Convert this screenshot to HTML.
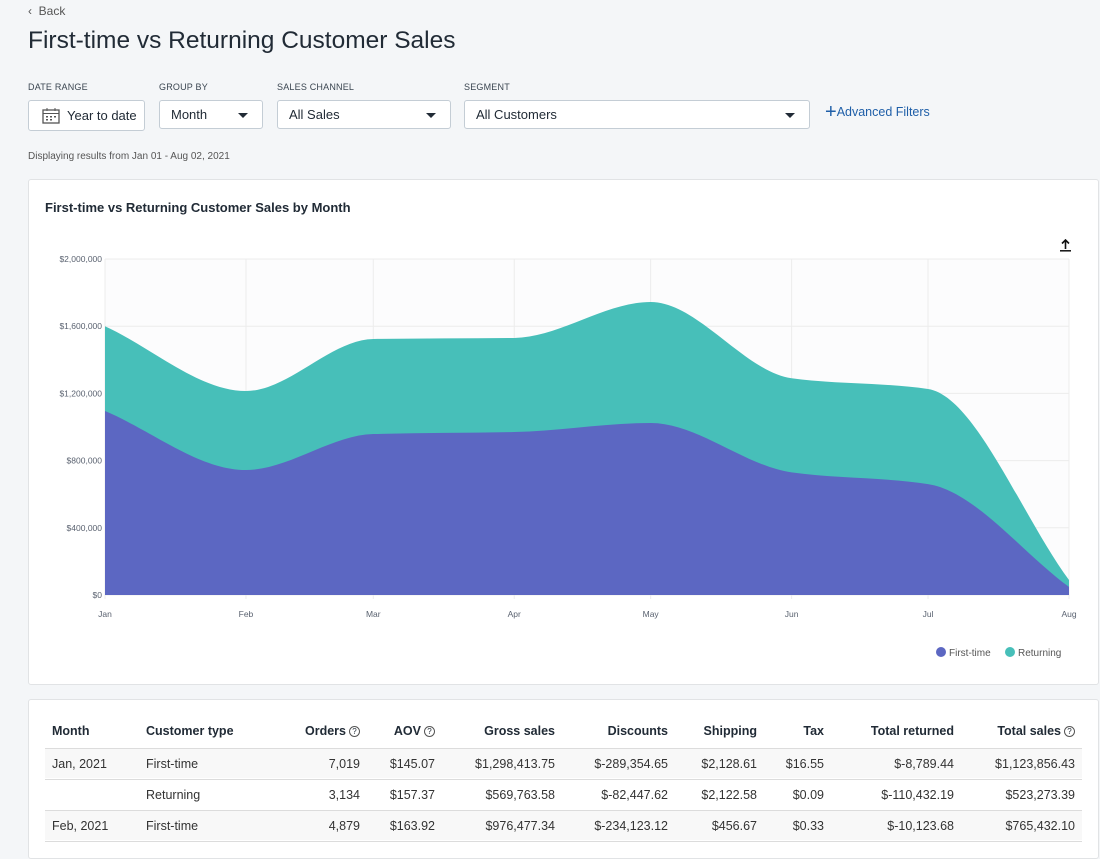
<!DOCTYPE html>
<html><head><meta charset="utf-8">
<style>
*{box-sizing:border-box;margin:0;padding:0}
body{width:1100px;height:843px;overflow:hidden;background:#f4f6f8;font-family:"Liberation Sans",sans-serif;color:#212b36;position:relative}
.abs{position:absolute}
.lbl{font-size:9px;color:#3a4550;letter-spacing:.2px}
.box{position:absolute;background:#fff;border:1px solid #c4cdd5;border-radius:3px;font-size:13px;color:#212b36;height:29px;line-height:27px;padding-left:11px}
.caret{position:absolute;right:14px;top:12px;width:0;height:0;border-left:5px solid transparent;border-right:5px solid transparent;border-top:5px solid #212b36}
.card{position:absolute;background:#fff;border:1px solid #e1e3e5;border-radius:3px}
.th{position:absolute;font-size:12.5px;font-weight:bold;top:724px}
.td{position:absolute;font-size:12.5px;color:#333}
.r{text-align:right}
.q{display:inline-block;width:11px;height:11px;border:1px solid #555;border-radius:50%;font-size:8px;line-height:9px;text-align:center;font-weight:normal;margin-left:3px;vertical-align:1px}
</style></head><body>
<div class="abs" style="left:28px;top:4px;font-size:12px;color:#555">‹&nbsp; Back</div>
<div class="abs" style="left:28px;top:27px;font-size:24.5px;color:#212b36">First-time vs Returning Customer Sales</div>

<div class="abs lbl" style="left:28px;top:82px">DATE RANGE</div>
<div class="abs lbl" style="left:159px;top:82px">GROUP BY</div>
<div class="abs lbl" style="left:277px;top:82px">SALES CHANNEL</div>
<div class="abs lbl" style="left:464px;top:82px">SEGMENT</div>

<div class="box" style="left:28px;top:100px;width:117px;height:31px;padding-left:38px;line-height:30px">
<svg class="abs" style="left:13px;top:7px" width="18" height="16" viewBox="0 0 18 16"><rect x="1" y="2" width="16" height="13" fill="none" stroke="#555" stroke-width="1.3"/><line x1="1" y1="5.5" x2="17" y2="5.5" stroke="#555"/><line x1="5" y1="0" x2="5" y2="3" stroke="#555"/><line x1="13" y1="0" x2="13" y2="3" stroke="#555"/><g fill="#555"><rect x="4" y="8" width="2" height="1.5"/><rect x="8" y="8" width="2" height="1.5"/><rect x="12" y="8" width="2" height="1.5"/><rect x="4" y="11" width="2" height="1.5"/><rect x="8" y="11" width="2" height="1.5"/></g></svg>Year to date</div>
<div class="box" style="left:159px;top:100px;width:104px">Month<span class="caret"></span></div>
<div class="box" style="left:277px;top:100px;width:174px">All Sales<span class="caret"></span></div>
<div class="box" style="left:464px;top:100px;width:346px">All Customers<span class="caret"></span></div>
<div class="abs" style="left:825px;top:101px;font-size:12.5px;color:#1f5fa8"><span style="font-size:20px;vertical-align:-2px">+</span>Advanced Filters</div>
<div class="abs" style="left:28px;top:151px;font-size:10px;color:#555">Displaying results from Jan 01 - Aug 02, 2021</div>

<div class="card" style="left:28px;top:179px;width:1071px;height:506px"></div>
<div class="abs" style="left:45px;top:200px;font-size:13px;font-weight:bold;color:#212b36">First-time vs Returning Customer Sales by Month</div>
<svg class="abs" style="left:1059px;top:239px" width="13" height="13"><path d="M6.5 1 L6.5 10 M3 4.5 L6.5 1 L10 4.5" stroke="#111" stroke-width="1.6" fill="none"/><line x1="1" y1="11.8" x2="12" y2="11.8" stroke="#111" stroke-width="1.5"/></svg>

<svg id="chart" class="abs" style="left:0;top:0" width="1100" height="843"></svg>

<div class="abs" style="left:936px;top:647px;font-size:10px;color:#555"><span style="display:inline-block;width:10px;height:10px;border-radius:50%;background:#5c67c2;vertical-align:-1px;margin-right:3px"></span>First-time</div>
<div class="abs" style="left:1005px;top:647px;font-size:10px;color:#555"><span style="display:inline-block;width:10px;height:10px;border-radius:50%;background:#47bfb9;vertical-align:-1px;margin-right:3px"></span>Returning</div>

<div class="card" style="left:28px;top:699px;width:1071px;height:160px"></div>
<div id="tbl"></div>

<script>
const NS='http://www.w3.org/2000/svg';
const months=['Jan','Feb','Mar','Apr','May','Jun','Jul','Aug'];
const dayOffsets=[0,31,59,90,120,151,181,212];
const firstTime=[1095000,744000,958000,970000,1024000,730000,660000,48000];
const returning=[505000,470000,566000,560000,720000,560000,566000,41000];
const yTicks=[0,400000,800000,1200000,1600000,2000000];
const yTickLabels=['$0','$400,000','$800,000','$1,200,000','$1,600,000','$2,000,000'];

const X0=105,X1=1069,Y0=595,Y1=259;
const xs=d=>X0+(X1-X0)*d/212;
const ys=v=>Y0-(Y0-Y1)*v/2000000;
const svg=document.getElementById('chart');
function mk(t,a){const e=document.createElementNS(NS,t);for(const k in a)e.setAttribute(k,a[k]);svg.appendChild(e);return e;}

const bg=mk('rect',{x:X0,y:Y1,width:X1-X0,height:Y0-Y1,fill:'#fcfcfd'});


yTicks.forEach((v,i)=>{
  const l=mk('line',{x1:X0,x2:X1,y1:ys(v),y2:ys(v),stroke:'#ececec'});
  
  
  const t=mk('text',{x:X0-3,y:ys(v)+3,'text-anchor':'end','font-size':'8.5',fill:'#5a6270','font-family':'Liberation Sans, sans-serif'});
  t.textContent=yTickLabels[i];
  
  
});
months.forEach((m,i)=>{
  const x=xs(dayOffsets[i]);
  const l=mk('line',{x1:x,x2:x,y1:Y1,y2:Y0+4,stroke:'#ececec'});
  
  
  const t=mk('text',{x:x,y:Y0+22,'text-anchor':'middle','font-size':'8.5',fill:'#5a6270','font-family':'Liberation Sans, sans-serif'});
  t.textContent=m;
  
  
});

function monotone(px,py){
  const n=px.length,d=[],m=[];
  for(let i=0;i<n-1;i++)d.push((py[i+1]-py[i])/(px[i+1]-px[i]));
  m[0]=d[0];m[n-1]=d[n-2];
  for(let i=1;i<n-1;i++){
    const h0=px[i]-px[i-1],h1=px[i+1]-px[i];
    if(d[i-1]*d[i]>0){m[i]=3*(h0+h1)/((2*h1+h0)/d[i-1]+(h1+2*h0)/d[i]);}else m[i]=0;}
  let s='';
  for(let i=0;i<n-1;i++){const h=px[i+1]-px[i];
    s+=` C${px[i]+h/3},${py[i]+m[i]*h/3} ${px[i+1]-h/3},${py[i+1]-m[i+1]*h/3} ${px[i+1]},${py[i+1]}`;}
  return s;
}
const px=dayOffsets.map(xs);
const totals=firstTime.map((v,i)=>v+returning[i]);
const pyT=totals.map(ys), pyF=firstTime.map(ys);
const rp=mk('path',{d:`M${px[0]},${Y0} L${px[0]},${pyT[0]}`+monotone(px,pyT)+` L${px[7]},${Y0} Z`,fill:'#47bfb9'});


const fp=mk('path',{d:`M${px[0]},${Y0} L${px[0]},${pyF[0]}`+monotone(px,pyF)+` L${px[7]},${Y0} Z`,fill:'#5c67c2'});



const tbl=document.getElementById('tbl');
function cell(txt,x,y,cls,right,name,html){
  const d=document.createElement('div');d.className=cls+(right?' r':'');
  d.style.top=y+'px';
  if(right){d.style.left=(x-160)+'px';d.style.width='160px';}else d.style.left=x+'px';
  if(html)d.innerHTML=txt;else d.textContent=txt;
  
  
  tbl.appendChild(d);
}
const q='<span class="q">?</span>';
const heads=[['Month',52,0],['Customer type',146,0],['Orders'+q,360,1],['AOV'+q,435,1],['Gross sales',555,1],['Discounts',668,1],['Shipping',757,1],['Tax',824,1],['Total returned',954,1],['Total sales'+q,1075,1]];
heads.forEach(h=>cell(h[0],h[1],724,'th',h[2],'column-header',true));
const rows=[
 ['Jan, 2021','First-time','7,019','$145.07','$1,298,413.75','$-289,354.65','$2,128.61','$16.55','$-8,789.44','$1,123,856.43'],
 ['','Returning','3,134','$157.37','$569,763.58','$-82,447.62','$2,122.58','$0.09','$-110,432.19','$523,273.39'],
 ['Feb, 2021','First-time','4,879','$163.92','$976,477.34','$-234,123.12','$456.67','$0.33','$-10,123.68','$765,432.10']];
const cx=[52,146,360,435,555,668,757,824,954,1075];
rows.forEach((r,ri)=>{
  const top=748+ri*31;
  const band=document.createElement('div');band.className='abs';
  band.style.cssText=`left:45px;top:${top}px;width:1037px;height:30px;background:${ri%2==0?'#f8f8f8':'#fff'};border-top:1px solid #dcdcdc`;
  
  
  tbl.appendChild(band);
  r.forEach((v,ci)=>cell(v,cx[ci],top+9,'td',ci>=2,'table-cell',false));
});
const last=document.createElement('div');last.className='abs';
last.style.cssText='left:45px;top:841px;width:1037px;height:1px;background:#dcdcdc';


tbl.appendChild(last);
</script>
</body></html>
